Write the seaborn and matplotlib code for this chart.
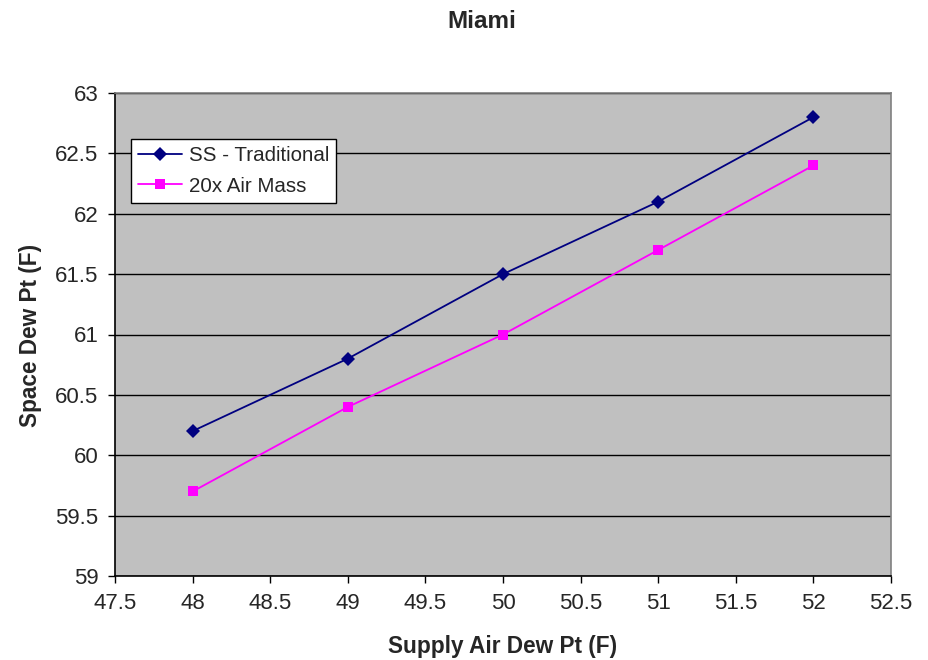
import matplotlib
matplotlib.use("Agg")
import matplotlib.pyplot as plt
import seaborn as sns
import pandas as pd

supply_dew_pt = [48, 49, 50, 51, 52]
ss_traditional = [60.2, 60.8, 61.5, 62.1, 62.8]
air_mass_20x = [59.7, 60.4, 61.0, 61.7, 62.4]
series_names = ["SS - Traditional", "20x Air Mass"]
x_ticks = [47.5, 48, 48.5, 49, 49.5, 50, 50.5, 51, 51.5, 52, 52.5]
y_ticks = [59, 59.5, 60, 60.5, 61, 61.5, 62, 62.5, 63]

df = pd.DataFrame({
    "x": supply_dew_pt * 2,
    "y": ss_traditional + air_mass_20x,
    "series": [series_names[0]] * len(supply_dew_pt) + [series_names[1]] * len(supply_dew_pt),
})

sns.set_style("white")
plt.rcParams["font.family"] = ["Liberation Sans", "DejaVu Sans"]

fig = plt.figure(figsize=(9.29, 6.6), dpi=100)
ax = fig.add_axes([115 / 929, 84 / 660, 776 / 929, 483 / 660])
ax.set_facecolor("#C0C0C0")

palette = {series_names[0]: "#000080", series_names[1]: "#FF00FF"}
markers = {series_names[0]: "D", series_names[1]: "s"}
sns.lineplot(data=df, x="x", y="y", hue="series", style="series",
             palette=palette, markers=markers, dashes=False,
             markersize=7, markeredgewidth=0, linewidth=1.3, ax=ax)

ax.set_xlim(47.5, 52.5)
ax.set_ylim(59, 63)
ax.set_xticks(x_ticks)
ax.set_xticklabels([f"{t:g}" for t in x_ticks])
ax.set_yticks(y_ticks)
ax.set_yticklabels([f"{t:g}" for t in y_ticks])
ax.yaxis.grid(True, color="black", linewidth=1.0)
ax.xaxis.grid(False)
ax.set_axisbelow(True)

for side in ["top", "right"]:
    ax.spines[side].set_color("#808080")
    ax.spines[side].set_linewidth(1.2)
for side in ["left", "bottom"]:
    ax.spines[side].set_color("black")
    ax.spines[side].set_linewidth(1.2)

ax.tick_params(axis="both", direction="out", length=5, width=1, color="black",
               labelsize=16, pad=7, left=True, bottom=True)

ax.set_xlabel("")
ax.set_ylabel("")
fig.text(503 / 929, 1 - 647 / 660, "Supply Air Dew Pt (F)", ha="center", va="center",
         fontsize=16.3, fontweight="bold")
fig.text(31 / 929, 1 - 335 / 660, "Space Dew Pt (F)", ha="center", va="center",
         rotation=90, fontsize=16.3, fontweight="bold")
fig.text(482 / 929, 1 - 21 / 660, "Miami", ha="center", va="center",
         fontsize=17.5, fontweight="bold")

leg = ax.legend(loc="upper left", bbox_to_anchor=((131 - 115) / 776, (576 - 139) / 483),
                frameon=True, fancybox=False, fontsize=14.8, borderpad=0.35,
                handlelength=2.15, handletextpad=0.3, labelspacing=0.55,
                borderaxespad=0)
leg.get_frame().set_edgecolor("black")
leg.get_frame().set_facecolor("white")
leg.get_frame().set_linewidth(1.0)
leg.get_frame().set_alpha(1)

fig.savefig("out.png", dpi=100)
